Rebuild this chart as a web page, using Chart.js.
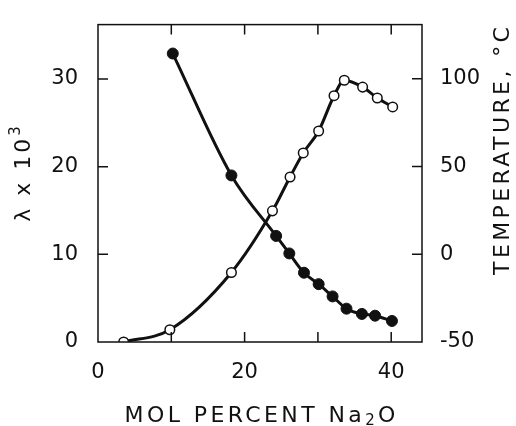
<!DOCTYPE html>
<html>
<head>
<meta charset="utf-8">
<script src="https://cdn.jsdelivr.net/npm/chart.js@4"></script>
<style>
  html, body { margin:0; padding:0; background:#fff; }
</style>
</head>
<body>
<canvas id="c" width="516" height="426"></canvas>
<script>
// λ x 10^3 (left axis, filled circles)
const lambdaX = [10.2, 18.2, 24.3, 26.1, 28.1, 30.1, 32.0, 33.9, 36.0, 37.8, 40.1];
const lambdaY = [32.9, 19.0, 12.1, 10.1, 7.9, 6.6, 5.2, 3.8, 3.2, 3.0, 2.4];
// temperature °C (right axis, open circles)
const tempX = [3.5, 9.8, 18.2, 23.8, 26.2, 28.0, 30.1, 32.2, 33.6, 36.1, 38.1, 40.2];
const tempY = [-50, -43.0, -10.4, 24.7, 44.0, 57.7, 70.2, 90.3, 99.1, 95.2, 89.0, 83.9];

const xLabels = [0, 20, 40];
const xTickMarks = [10, 20, 30, 40];
const yLabels = [0, 10, 20, 30];
const y2Labels = [-50, 0, 50, 100];

const INK = '#111';
const FONT = '"DejaVu Sans", sans-serif';

// draws a run of text pieces (for sub/superscripts) centred on cx,cy
function drawRich(ctx, parts, cx, cy, spacing) {
  ctx.letterSpacing = spacing + 'px';
  let total = 0;
  parts.forEach(p => { ctx.font = p.s + 'px ' + FONT; p.w = ctx.measureText(p.t).width; total += p.w; });
  total -= spacing;
  let x = cx - total / 2;
  ctx.textAlign = 'left';
  ctx.textBaseline = 'middle';
  parts.forEach(p => {
    ctx.font = p.s + 'px ' + FONT;
    ctx.fillText(p.t, x, cy + (p.dy || 0));
    x += p.w;
  });
}

const framePlugin = {
  id: 'frame',
  afterDraw(chart) {
    const { ctx, chartArea: a, scales } = chart;
    ctx.save();
    ctx.strokeStyle = INK;
    ctx.lineWidth = 1.5;
    ctx.strokeRect(a.left, a.top, a.right - a.left, a.bottom - a.top);
    const L = 10;
    ctx.beginPath();
    xTickMarks.forEach(v => {
      const px = scales.x.getPixelForValue(v);
      ctx.moveTo(px, a.bottom); ctx.lineTo(px, a.bottom - L);
      ctx.moveTo(px, a.top); ctx.lineTo(px, a.top + L);
    });
    yLabels.slice(1).forEach(v => {
      const py = scales.y.getPixelForValue(v);
      ctx.moveTo(a.left, py); ctx.lineTo(a.left + L, py);
    });
    y2Labels.slice(1).forEach(v => {
      const py = scales.y2.getPixelForValue(v);
      ctx.moveTo(a.right, py); ctx.lineTo(a.right - L, py);
    });
    ctx.stroke();

    // axis titles
    ctx.fillStyle = INK;
    drawRich(ctx, [{ t: 'MOL PERCENT Na', s: 22 }, { t: '2', s: 15, dy: 5 }, { t: 'O', s: 22 }],
      (a.left + a.right) / 2, 416, 3.4);

    ctx.save();
    ctx.translate(24, 174);
    ctx.rotate(-Math.PI / 2);
    drawRich(ctx, [{ t: '\u03BB x 10', s: 22 }, { t: '3', s: 15, dy: -8 }], 0, 0, 3);
    ctx.restore();

    ctx.save();
    ctx.translate(503, 151);
    ctx.rotate(-Math.PI / 2);
    drawRich(ctx, [{ t: 'TEMPERATURE, \u00B0C', s: 22 }], 0, 0, 3.4);
    ctx.restore();
    ctx.restore();
  }
};

const tickFont = { family: FONT, size: 21 };

new Chart(document.getElementById('c'), {
  type: 'line',
  data: {
    datasets: [
      {
        label: 'lambda',
        data: lambdaX.map((x, i) => ({ x, y: lambdaY[i] })),
        yAxisID: 'y',
        borderColor: INK, borderWidth: 3,
        pointRadius: 5.5, pointBackgroundColor: INK, pointBorderColor: INK, pointBorderWidth: 1,
        cubicInterpolationMode: 'monotone', fill: false
      },
      {
        label: 'temperature',
        data: tempX.map((x, i) => ({ x, y: tempY[i] })),
        yAxisID: 'y2',
        borderColor: INK, borderWidth: 3,
        pointRadius: 4.8, pointBackgroundColor: '#fff', pointBorderColor: INK, pointBorderWidth: 1.5,
        cubicInterpolationMode: 'monotone', fill: false
      }
    ]
  },
  options: {
    responsive: false,
    animation: false,
    devicePixelRatio: 1,
    layout: { padding: { top: 13, left: 0, right: 0, bottom: 0 } },
    plugins: { legend: { display: false }, tooltip: { enabled: false } },
    scales: {
      x: {
        type: 'linear', min: 0, max: 44.2,
        afterBuildTicks: s => { s.ticks = xLabels.map(v => ({ value: v })); },
        afterFit: s => { s.height = 84; },
        grid: { display: false }, border: { display: false },
        ticks: { font: tickFont, color: INK, padding: 10, maxRotation: 0 }
      },
      y: {
        position: 'left', min: 0, max: 36.2,
        afterBuildTicks: s => { s.ticks = yLabels.map(v => ({ value: v })); },
        afterFit: s => { s.width = 98; },
        grid: { display: false }, border: { display: false },
        ticks: { font: tickFont, color: INK, padding: 12 }
      },
      y2: {
        position: 'right', min: -50, max: 130.8,
        afterBuildTicks: s => { s.ticks = y2Labels.map(v => ({ value: v })); },
        afterFit: s => { s.width = 94; },
        grid: { display: false }, border: { display: false },
        ticks: { font: tickFont, color: INK, padding: 10 }
      }
    }
  },
  plugins: [framePlugin]
});
</script>
</body>
</html>
